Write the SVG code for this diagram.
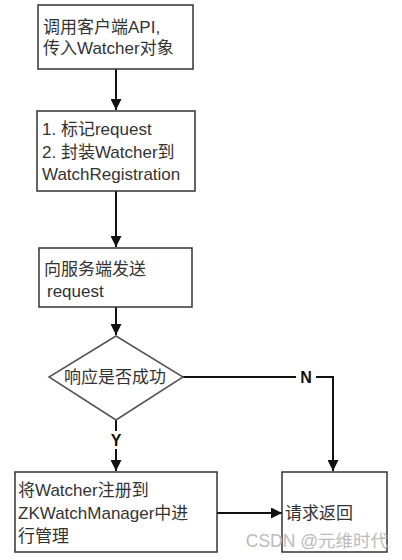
<svg xmlns="http://www.w3.org/2000/svg" width="402" height="560" viewBox="0 0 402 560">
<style>
.box{fill:#fff;stroke:#333;stroke-width:1.5}
.t{font-family:"Liberation Sans","Noto Sans CJK SC",sans-serif;font-size:17px;fill:#333}
.c{fill:none;stroke:#111;stroke-width:2}
.lbl{font-family:"Liberation Sans",sans-serif;font-size:16px;font-weight:bold;fill:#111}
</style>
<defs>
<marker id="ah" viewBox="0 0 10 10" refX="10" refY="5" markerWidth="5.5" markerHeight="5.5" orient="auto" markerUnits="strokeWidth">
<path d="M0,0 L10,5 L0,10 z" fill="#111"/>
</marker>
</defs>
<rect width="402" height="560" fill="#fff"/>
<g id="connectors">
<line class="c" x1="116" y1="69" x2="116" y2="110" marker-end="url(#ah)"/>
<line class="c" x1="116" y1="191" x2="116" y2="247" marker-end="url(#ah)"/>
<line class="c" x1="116" y1="307" x2="116" y2="335" marker-end="url(#ah)"/>
<polyline class="c" points="183,377 333,377 333,471" marker-end="url(#ah)"/>
<line class="c" x1="116" y1="420" x2="116" y2="471" marker-end="url(#ah)"/>
<line class="c" x1="217" y1="513" x2="282" y2="513" marker-end="url(#ah)"/>
<rect x="296" y="368" width="20" height="18" fill="#fff"/>
<text class="lbl" x="306" y="383" text-anchor="middle">N</text>
<rect x="106" y="431" width="20" height="18" fill="#fff"/>
<text class="lbl" x="116" y="446" text-anchor="middle">Y</text>
</g>
<g id="n1">
<rect class="box" x="38" y="5" width="155" height="64"/>
<text class="t" x="43" y="33">调用客户端API,</text>
<text class="t" x="43" y="54">传入Watcher对象</text>
</g>
<g id="n2">
<rect class="box" x="37" y="111" width="158" height="80"/>
<text class="t" x="42" y="135">1. 标记request</text>
<text class="t" x="42" y="158">2. 封装Watcher到</text>
<text class="t" x="42" y="180">WatchRegistration</text>
</g>
<g id="n3">
<rect class="box" x="39" y="248" width="153" height="59"/>
<text class="t" x="44" y="275">向服务端发送</text>
<text class="t" x="47" y="297">request</text>
</g>
<g id="n4">
<polygon points="116,336 183,377 116,420 49,377" fill="#fff" stroke="#555" stroke-width="1.5"/>
<text class="t" x="115" y="383" text-anchor="middle">响应是否成功</text>
</g>
<g id="n5">
<rect class="box" x="15" y="472" width="202" height="80"/>
<text class="t" x="18" y="496">将Watcher注册到</text>
<text class="t" x="18" y="519">ZKWatchManager中进</text>
<text class="t" x="18" y="542">行管理</text>
</g>
<g id="n6">
<rect class="box" x="282" y="472" width="105" height="80"/>
<text class="t" x="285" y="519">请求返回</text>
</g>
<text x="388" y="547" text-anchor="end" font-family="Liberation Sans,Noto Sans CJK SC,sans-serif" font-size="17.5" fill="#bbb">CSDN @元维时代</text>
</svg>
